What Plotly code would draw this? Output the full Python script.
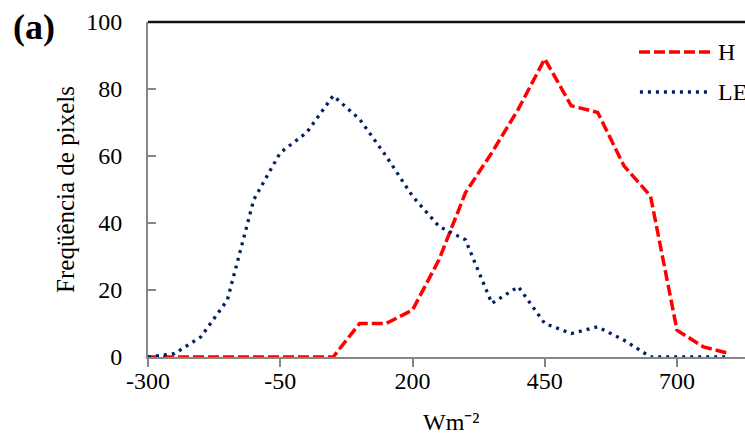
import plotly.graph_objects as go

# Flux bins (W m-2) and pixel counts per bin
flux = [-300, -250, -200, -150, -100, -50, 0, 50, 100, 150, 200, 250,
        300, 350, 400, 450, 500, 550, 600, 650, 700, 750, 800]
h_counts = [0, 0, 0, 0, 0, 0, 0, 0, 10, 10, 14, 29,
            49, 61, 74, 89, 75, 73, 57, 48, 8, 3, 1]
le_counts = [0, 1, 6, 17, 47, 61, 67, 78, 71, 60, 48, 39,
             35, 16, 21, 10, 7, 9, 5, 0, 0, 0, 0]

x_ticks = [-300, -50, 200, 450, 700]
x_tick_labels = ["-300", "-50", "200", "450", "700"]
y_ticks = [0, 20, 40, 60, 80, 100]

RED = "#FF0000"
NAVY = "#002060"
AXIS_GREY = "#868686"
SERIF = "Liberation Serif, Times New Roman, serif"

fig = go.Figure()
fig.add_trace(go.Scatter(
    x=flux, y=h_counts, name="H", mode="lines",
    line=dict(color=RED, width=3.5, dash="11px,4px"),
))
fig.add_trace(go.Scatter(
    x=flux, y=le_counts, name="LE", mode="lines",
    line=dict(color=NAVY, width=3.3, dash="3px,5px"),
))

fig.update_layout(
    width=745, height=437,
    margin=dict(l=148, r=0, t=22, b=80),
    paper_bgcolor="white", plot_bgcolor="white",
    showlegend=False,
    font=dict(family=SERIF, size=24, color="black"),
)
fig.update_xaxes(
    range=[-300, 828.5], tickvals=x_ticks, ticktext=x_tick_labels,
    showgrid=False, zeroline=False,
    showline=True, linecolor=AXIS_GREY, linewidth=2,
    ticks="outside", ticklen=8, tickwidth=1.5, tickcolor=AXIS_GREY,
    tickfont=dict(family=SERIF, size=24, color="black"),
    ticklabelstandoff=-7,
)
fig.update_yaxes(
    range=[0, 100], tickvals=y_ticks, showgrid=False, zeroline=False,
    showline=True, linecolor=AXIS_GREY, linewidth=2,
    ticks="inside", ticklen=8, tickwidth=1.5, tickcolor=AXIS_GREY,
    tickfont=dict(family=SERIF, size=24, color="black"),
    ticklabelstandoff=19,
    title=dict(text="Freqüência de pixels", font=dict(family=SERIF, size=25),
               standoff=4),
)

# top frame line of the plot area
fig.add_shape(type="line", xref="paper", yref="paper", x0=0, x1=1, y0=1, y1=1,
              line=dict(color="#111111", width=2.5))

# legend samples drawn by hand so the line samples are full length
fig.add_shape(type="line", xref="paper", yref="paper", x0=0.8224, x1=0.9430,
              y0=0.9104, y1=0.9104, line=dict(color=RED, width=3.5, dash="11px,4px"))
fig.add_shape(type="line", xref="paper", yref="paper", x0=0.8240, x1=0.9430,
              y0=0.7910, y1=0.7910, line=dict(color=NAVY, width=3.3, dash="3px,5px"))
fig.add_annotation(text="H", xref="paper", yref="paper", x=0.9514, y=0.9104,
                   xanchor="left", yanchor="middle", showarrow=False,
                   font=dict(family=SERIF, size=24, color="black"))
fig.add_annotation(text="LE", xref="paper", yref="paper", x=0.9514, y=0.7910,
                   xanchor="left", yanchor="middle", showarrow=False,
                   font=dict(family=SERIF, size=24, color="black"))

# x-axis title
fig.add_annotation(text="Wm⁻²", xref="paper", yref="paper", x=0.509, y=-0.193,
                   xanchor="center", yanchor="middle", showarrow=False,
                   font=dict(family=SERIF, size=24, color="black"))

# panel label
fig.add_annotation(text="<b>(a)</b>", xref="paper", yref="paper", x=-0.229, y=0.985,
                   xanchor="left", yanchor="middle", showarrow=False,
                   font=dict(family=SERIF, size=36, color="black"))

fig.write_html("out.html")
